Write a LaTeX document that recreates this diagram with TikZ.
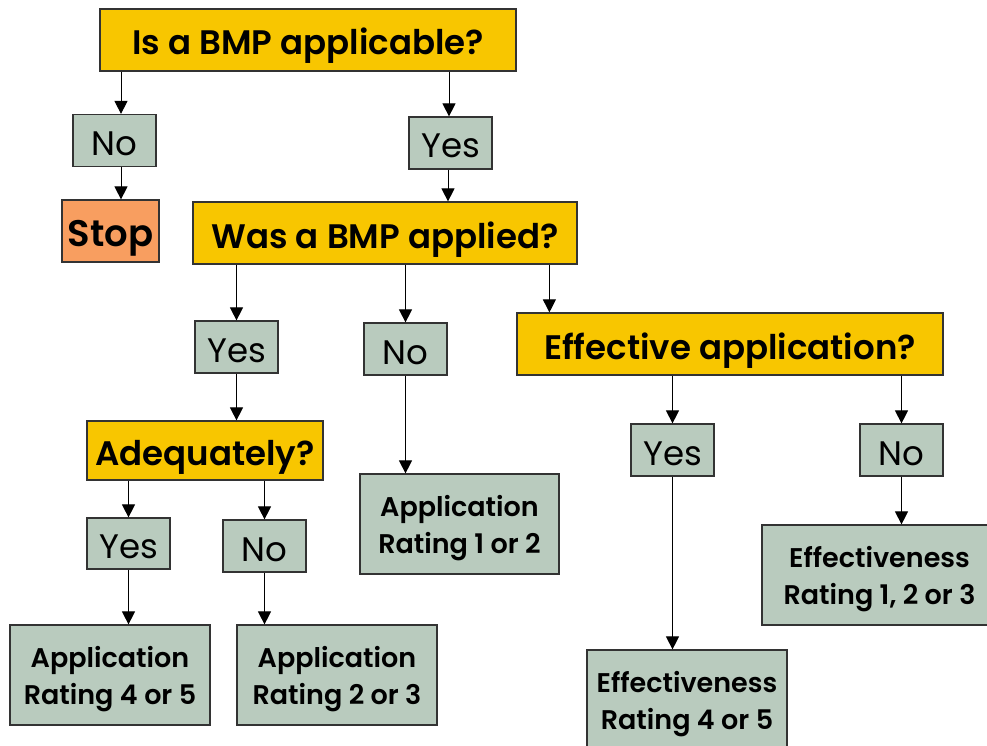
\documentclass[tikz,border=0pt]{standalone}
\usepackage{fontspec}
\setmainfont{Poppins}[BoldFont={Poppins SemiBold}]
\usetikzlibrary{arrows.meta}
\definecolor{qyellow}{HTML}{F8C600}
\definecolor{ansgreen}{HTML}{B9CBBE}
\definecolor{stoporange}{HTML}{F89E60}
\definecolor{edgegray}{HTML}{333333}
\newcommand\myTopStrut{\rule{0pt}{30pt}}
\tikzset{
  box/.style={draw=edgegray, line width=1.2pt, inner sep=0pt, align=center, text=black},
  question/.style={box, fill=qyellow, font=\bfseries\fontsize{34}{36}\selectfont, minimum height=62pt, text height=30pt, text depth=0pt},
  answer/.style={box, fill=ansgreen, font=\fontsize{34}{36}\selectfont, minimum width=83pt, minimum height=52pt, text height=30pt, text depth=0pt},
  rating/.style={box, fill=ansgreen, font=\bfseries\fontsize{27}{37}\selectfont, minimum width=200pt, minimum height=100pt},
  stopbox/.style={box, fill=stoporange, font=\bfseries\fontsize{37}{40}\selectfont, minimum width=97pt, minimum height=62pt, text height=31pt, text depth=0pt},
  arr/.style={draw=black, line width=1pt, -{Triangle[length=13pt,width=13pt]}}
}
\begin{document}
\begin{tikzpicture}[x=1pt,y=-1pt]
\useasboundingbox (0,0) rectangle (987,746);
\clip (0,0) rectangle (987,746);
\fill[white] (0,0) rectangle (987,746);
% nodes
\node[question, minimum width=416pt] (q1) at (308,40) {Is a BMP applicable?};
\node[answer] (no1) at (114.5,140.5) {No};
\node[answer] (yes1) at (450.5,143) {Yes};
\node[stopbox] (stop) at (110.5,231) {Stop};
\node[question, minimum width=384pt] (q2) at (385,233) {Was a BMP applied?};
\node[answer] (yes2) at (236.5,347) {Yes};
\node[answer] (no2) at (405.5,349) {No};
\node[question, minimum width=426pt] (q3) at (730,344) {Effective application?};
\node[question, minimum width=236pt, minimum height=59pt] (q4) at (205,450.5) {Adequately?};
\node[rating, minimum width=199pt] (app12) at (459.5,524) {\myTopStrut Application\\Rating 1 or 2};
\node[answer] (yes3) at (672.5,450) {Yes};
\node[answer] (no3) at (901.5,450) {No};
\node[rating, minimum width=235pt] (eff123) at (879.5,575) {\myTopStrut Effectiveness\\Rating 1, 2 or 3};
\node[answer, minimum height=51pt] (yes4) at (128.5,543.5) {Yes};
\node[answer] (no4) at (264.5,546) {No};
\node[rating] (app45) at (110,675) {\myTopStrut Application\\Rating 4 or 5};
\node[rating] (app23) at (337,675) {\myTopStrut Application\\Rating 2 or 3};
\node[rating] (eff45) at (687,700) {\myTopStrut Effectiveness\\Rating 4 or 5};
% connectors
\draw[arr] ([xshift=6.5pt]no1.north |- q1.south) -- ([xshift=6.5pt]no1.north);
\draw[arr] ([xshift=-1.5pt]yes1.north |- q1.south) -- ([xshift=-1.5pt]yes1.north);
\draw[arr] ([xshift=6.5pt]no1.south) -- ([xshift=6.5pt]no1.south |- stop.north);
\draw[arr] ([xshift=-2.5pt]yes1.south) -- ([xshift=-2.5pt]yes1.south |- q2.north);
\draw[arr] (yes2.north |- q2.south) -- (yes2.north);
\draw[arr] (no2.north |- q2.south) -- (no2.north);
\draw[arr] ([xshift=33pt]q3.north west |- q2.south) -- ([xshift=33pt]q3.north west);
\draw[arr] (yes2.south) -- (yes2.south |- q4.north);
\draw[arr] (no2.south) -- (no2.south |- app12.north);
\draw[arr] (yes3.north |- q3.south) -- (yes3.north);
\draw[arr] (no3.north |- q3.south) -- (no3.north);
\draw[arr] (yes4.north |- q4.south) -- (yes4.north);
\draw[arr] (no4.north |- q4.south) -- (no4.north);
\draw[arr] (yes3.south) -- (yes3.south |- eff45.north);
\draw[arr] (no3.south) -- (no3.south |- eff123.north);
\draw[arr] (yes4.south) -- (yes4.south |- app45.north);
\draw[arr] (no4.south) -- (no4.south |- app23.north);
\end{tikzpicture}
\end{document}
